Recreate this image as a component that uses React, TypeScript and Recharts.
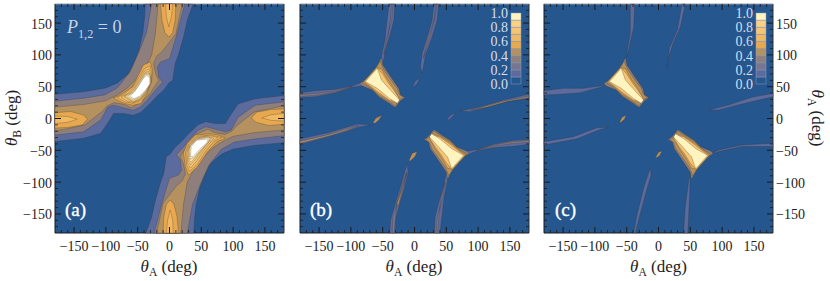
import React from 'react';
import {
  ScatterChart,
  Scatter,
  XAxis,
  YAxis,
  ReferenceArea,
  BarChart,
  Bar,
} from 'recharts';

type Pt = number[];

const majorTicks = [-150, -100, -50, 0, 50, 100, 150];
const allTicks = [-170, -160, -150, -140, -130, -120, -110, -100, -90, -80, -70, -60, -50, -40, -30, -20, -10, 0, 10, 20, 30, 40, 50, 60, 70, 80, 90, 100, 110, 120, 130, 140, 150, 160, 170];
const barLabels = [0, 0.2, 0.4, 0.6, 0.8, 1];
const barSteps = [0.1, 0.1, 0.1, 0.1, 0.1, 0.1, 0.1, 0.1, 0.1, 0.1];
const frameCorners = [{ a: -180, b: -180 }, { a: 180, b: 180 }];

// fill colour for each contour band, low to high
const BANDS = ['#25568e', '#5b6b9e', '#77758f', '#8f7f7c', '#b5915f', '#e8a850', '#f1b862', '#f5c474', '#fad085', '#fee3a4', '#fff3c0', '#ffffff'];

// panel (a), upper-left ridge
const aUp1: Pt[] = [[-180, 38], [-135, 42], [-100, 48], [-82, 56], [-65, 70], [-56, 87], [-48, 108], [-42, 134], [-39, 160], [-38, 180], [37, 180], [28, 155], [22, 128], [14, 100], [9, 87], [5, 60], [-1, 56], [-9, 45], [-20, 35], [-30, 24], [-45, 10], [-57, 5], [-72, 8], [-88, 8], [-97, -7], [-108, -23], [-135, -31], [-180, -36]];
const aUp2: Pt[] = [[-180, 27], [-135, 32], [-102, 37], [-82, 48], [-62, 73], [-50, 100], [-36, 135], [-28, 180], [24, 180], [12, 134], [0, 94], [-14, 89], [-19, 81], [-17, 65], [-11, 57], [-22, 45], [-35, 29], [-46, 18], [-57, 13], [-88, 21], [-97, 18], [-108, -2], [-135, -21], [-180, -26]];
const aUp3: Pt[] = [[-180, 18], [-135, 22], [-100, 28], [-82, 37], [-66, 48], [-48, 66], [-37, 82], [-28, 100], [-22, 135], [-18, 180], [20, 180], [10, 133], [-11, 106], [-20, 98], [-25, 87], [-22, 71], [-17, 60], [-30, 40], [-40, 30], [-60, 17], [-71, 22], [-87, 25], [-98, 20], [-106, 11], [-133, -10], [-180, -20]];
const aLeft1: Pt[] = [[-180, 9], [-156, 11], [-135, 5.5], [-129, -1], [-137, -10], [-160, -14], [-180, -15]];
const aLeft2: Pt[] = [[-180, 4], [-160, 3], [-145, -1], [-160, -6], [-180, -8]];
const aTop1: Pt[] = [[-14, 180], [-12, 155], [-7, 135], [-1, 128], [5, 135], [9, 155], [10, 180]];
const aTop2: Pt[] = [[-6, 180], [-5, 160], [-1, 144], [3, 160], [5, 180]];
const aBlob1: Pt[] = [[-88, 32], [-77, 37], [-58, 50], [-49, 68], [-41, 84], [-30, 89], [-27, 76], [-28, 60], [-35, 40], [-45, 24], [-57, 21], [-72, 24]];
const aBlob2: Pt[] = [[-82, 33], [-72, 38], [-57, 50], [-48, 65], [-40, 78], [-31, 83], [-28, 72], [-28.5, 58], [-35, 42], [-46, 28], [-57, 24], [-70, 26]];
const aBlob3: Pt[] = [[-76, 34], [-66, 39], [-56, 48], [-47, 62], [-40, 74], [-32, 78], [-29, 68], [-29, 57], [-35.5, 43], [-46, 30], [-57, 25], [-68, 28]];
const aBlob4: Pt[] = [[-72, 35], [-62, 40], [-55, 47], [-46, 60], [-39, 72], [-33, 74], [-29.5, 65], [-29.5, 58], [-36, 43], [-46, 31], [-57, 26], [-65, 30]];
const aBlob5: Pt[] = [[-70, 35], [-60, 40], [-54, 46], [-47, 58], [-38, 71], [-32, 71], [-29.5, 60], [-36, 44], [-46, 32], [-57, 27]];
const aBlob6: Pt[] = [[-66, 35], [-57, 41], [-50, 49], [-44, 60], [-37, 70], [-31, 68], [-30, 56], [-37, 44], [-46, 34], [-57, 29]];
const aBlob7: Pt[] = [[-62, 35], [-55, 42], [-48, 52], [-42, 62], [-36, 68], [-31, 64], [-31, 54], [-38, 44], [-47, 35], [-56, 31]];

// panel (a), lower-right ridge
const aDn1: Pt[] = [[180, -38], [135, -42], [100, -48], [82, -56], [65, -70], [56, -87], [48, -108], [42, -134], [39, -160], [38, -180], [-37, -180], [-28, -155], [-22, -128], [-14, -100], [-9, -87], [-5, -60], [1, -56], [9, -45], [20, -35], [30, -24], [45, -10], [57, -5], [72, -8], [88, -8], [97, 7], [108, 23], [135, 31], [180, 36]];
const aDn2: Pt[] = [[180, -27], [135, -32], [102, -37], [82, -48], [62, -73], [50, -100], [36, -135], [28, -180], [-24, -180], [-12, -134], [0, -94], [14, -89], [19, -81], [17, -65], [11, -57], [22, -45], [35, -29], [46, -18], [57, -13], [88, -21], [97, -18], [108, 2], [135, 21], [180, 26]];
const aDn3: Pt[] = [[180, -18], [135, -22], [100, -28], [82, -37], [66, -48], [48, -66], [37, -82], [28, -100], [22, -135], [18, -180], [-20, -180], [-10, -133], [11, -106], [20, -98], [25, -87], [22, -71], [17, -60], [30, -40], [40, -26], [60, -17], [71, -22], [87, -25], [98, -20], [106, -11], [133, 10], [180, 20]];
const aRight1: Pt[] = [[180, -9], [156, -11], [135, -5.5], [129, 1], [137, 10], [160, 14], [180, 15]];
const aRight2: Pt[] = [[180, -4], [160, -3], [145, 1], [160, 6], [180, 8]];
const aBottom1: Pt[] = [[14, -180], [12, -155], [7, -135], [1, -128], [-5, -135], [-9, -155], [-10, -180]];
const aBottom2: Pt[] = [[6, -180], [5, -160], [1, -144], [-3, -160], [-5, -180]];
const aLow1: Pt[] = [[88, -31], [75, -36], [60, -52], [44, -76], [30, -89], [25, -76], [22, -54], [28, -39], [41, -26], [64, -24], [76, -26]];
const aLow2: Pt[] = [[82, -30], [70, -36], [58, -50], [44, -72], [32, -83], [27, -74], [25, -54], [30, -40], [43, -28], [64, -26]];
const aLow3: Pt[] = [[76, -30], [66, -36], [54, -50], [42, -68], [33, -78], [28, -70], [27, -54], [31, -41], [43, -30], [62, -27]];
const aLow4: Pt[] = [[70, -31], [62, -37], [51, -50], [41, -64], [33, -73], [29, -66], [29, -52], [32, -42], [43, -31], [60, -28]];
const aLow5: Pt[] = [[66, -31], [60, -38], [49, -51], [40, -62], [33, -69], [30, -62], [31, -50], [33, -43], [43, -32], [60, -29]];
const aLow6: Pt[] = [[64, -31], [60, -38], [47, -52], [38, -62], [32, -64], [31, -50], [33, -43], [43, -33], [60, -30]];
const aLow7: Pt[] = [[33, -60], [34, -44], [43, -34], [61, -32], [59, -38], [46, -50], [37, -60]];

// the two stars, same in (b) and (c)
const starUp1: Pt[] = [[-86, 55], [-70, 66], [-58, 84], [-52, 96], [-49.7, 84], [-37.7, 66], [-24.6, 47], [-22, 37], [-15, 33], [-22, 28], [-30, 17.6], [-34, 19.7], [-40, 24], [-56, 34], [-66.5, 44.8], [-82, 51]];
const starUp2: Pt[] = [[-82, 56], [-60, 80], [-54, 90], [-49, 78], [-38, 62], [-27, 47], [-24, 38], [-18, 33], [-24, 29], [-30, 20], [-40, 26], [-56, 36], [-68, 47]];
const starUp3: Pt[] = [[-80, 57], [-60, 80], [-52, 78], [-43, 62], [-33, 48], [-27, 37], [-23, 32], [-29, 24], [-40, 28], [-57, 39], [-70, 50]];
const starUp4: Pt[] = [[-79, 58], [-59, 80], [-50, 70], [-41, 56], [-32, 44], [-25, 33], [-28, 26], [-40, 29], [-58, 42], [-72, 53]];
const starUp5: Pt[] = [[-77, 58], [-58.6, 79], [-52, 60.5], [-38, 44.8], [-23.5, 29], [-27, 24], [-40, 32], [-58.6, 47.4], [-72, 55]];
const starDn1: Pt[] = [[86, -55], [70, -66], [58, -84], [52, -96], [49.7, -84], [37.7, -66], [24.6, -47], [22, -37], [15, -33], [22, -28], [30, -17.6], [34, -19.7], [40, -24], [56, -34], [66.5, -44.8], [82, -51]];
const starDn2: Pt[] = [[82, -56], [60, -80], [54, -90], [49, -78], [38, -62], [27, -47], [24, -38], [18, -33], [24, -29], [30, -20], [40, -26], [56, -36], [68, -47]];
const starDn3: Pt[] = [[80, -57], [60, -80], [52, -78], [43, -62], [33, -48], [27, -37], [23, -32], [29, -24], [40, -28], [57, -39], [70, -50]];
const starDn4: Pt[] = [[79, -58], [59, -80], [50, -70], [41, -56], [32, -44], [25, -33], [28, -26], [40, -29], [58, -42], [72, -53]];
const starDn5: Pt[] = [[77, -58], [58.6, -79], [52, -60.5], [38, -44.8], [23.5, -29], [27, -24], [40, -32], [58.6, -47.4], [72, -55]];

// panel (b) arms
const bLeftUp: Pt[] = [[-180, 40.6], [-155.6, 43.8], [-124, 46], [-98, 51], [-80, 58], [-80, 52], [-98, 49], [-124, 40.6], [-155.6, 34.3], [-180, 33]];
const bLeftUpIn: Pt[] = [[-180, 37.5], [-155, 39], [-124, 43.5], [-98, 50], [-124, 42], [-155, 36.5], [-180, 35]];
const bTopLeft: Pt[] = [[-40, 180], [-43, 155], [-46.6, 123.4], [-52, 97], [-50, 84], [-45.5, 108], [-37.7, 134], [-32.4, 155], [-31, 180]];
const bTopLeftIn: Pt[] = [[-36, 180], [-38, 155], [-42, 125], [-48, 100], [-44, 125], [-36, 155], [-34, 180]];
const bTopRight: Pt[] = [[30.4, 180], [38, 180], [35.6, 155], [27.8, 128.7], [17.3, 99.8], [12, 71], [9.4, 81], [12, 102.5], [20, 128.7], [27.8, 155]];
const bTopRightIn: Pt[] = [[34, 180], [31, 155], [24, 128], [14, 95], [22, 128], [31, 155], [35, 180]];
const bRightUp: Pt[] = [[179.7, 38.5], [140.4, 29], [103.7, 18.6], [72.3, 12.3], [88, 10.8], [114, 17.6], [145.7, 26.5], [179.7, 31.7]];
const bRightUpIn: Pt[] = [[179.7, 35], [140, 27], [104, 17], [88, 13], [114, 18], [146, 27], [179.7, 33]];
const bLeftLow: Pt[] = [[-180, -32], [-134.6, -22], [-108, -14], [-90, -8.6], [-69, -10], [-90, -14], [-108, -20.7], [-134.6, -28.5], [-180, -41]];
const bLeftLowIn: Pt[] = [[-180, -36], [-134, -25], [-108, -17], [-88, -11], [-108, -19], [-134, -27], [-180, -39]];
const bBottomLeft: Pt[] = [[-38.7, -180], [-37.7, -159.5], [-30, -133.4], [-19, -96.7], [-11.5, -70.5], [-10, -86], [-16.7, -112], [-24.6, -138.6], [-30, -159.5], [-30, -180]];
const bBottomLeftIn: Pt[] = [[-35, -180], [-34, -155], [-26, -130], [-16, -100], [-12, -85], [-18, -100], [-28, -135], [-32, -180]];
const bBottomLeftCore: Pt[] = [[-28, -135], [-22, -118], [-14, -92], [-12, -85], [-18, -108], [-25, -135]];
const bRightLow: Pt[] = [[180, -40.6], [155.6, -43.8], [124, -46], [98, -51], [80, -58], [80, -52], [98, -49], [124, -40.6], [155.6, -34.3], [180, -33]];
const bRightLowIn: Pt[] = [[180, -37.5], [155, -39], [124, -43.5], [98, -50], [124, -42], [155, -36.5], [180, -35]];
const bBottomRight: Pt[] = [[40, -180], [43, -155], [46.6, -123.4], [52, -97], [50, -84], [45.5, -108], [37.7, -134], [32.4, -155], [31, -180]];
const bBottomRightIn: Pt[] = [[36, -180], [38, -155], [42, -125], [48, -100], [44, -125], [36, -155], [34, -180]];
const bDotA: Pt[] = [[-65.4, -6.5], [-61, 0.3], [-51, 5.5], [-56, -2.3], [-62, -7.6]];
const bDotB: Pt[] = [[-9, -66.3], [-3.6, -54.7], [4.3, -52], [0.6, -60], [-6.2, -66.3]];
const bDotC: Pt[] = [[-2.6, 51], [1.6, 59.5], [8.5, 63], [4, 55], [-1, 50]];
const bDotD: Pt[] = [[51.3, -1.3], [56.6, 5.5], [64.5, 9], [59.2, 2.9], [54, -2.3]];

// panel (c) arms
const cLeftUp: Pt[] = [[-180, 43.8], [-149, 47.4], [-117.7, 47.4], [-91.5, 51], [-78, 58], [-91.5, 49], [-123, 40.6], [-154.4, 38], [-180, 37]];
const cTopLeft: Pt[] = [[-44.3, 180], [-44.3, 134], [-50.6, 97], [-47, 107.7], [-39, 144], [-37.5, 180]];
const cTopRight: Pt[] = [[36.9, 180], [30, 140], [17, 110], [13.3, 79], [16, 97], [22.8, 118], [34.3, 144], [42.1, 180]];
const cRightUp: Pt[] = [[180, 39.6], [146.9, 33.3], [110, 21.2], [78.8, 13.4], [94.5, 13.4], [131, 22.8], [180, 34.3]];
const cLeftLow: Pt[] = [[-180, -36.4], [-133.4, -28.5], [-96.7, -14.4], [-78.4, -13.9], [-94, -18], [-128, -32], [-180, -41.6]];
const cBottomLeft: Pt[] = [[-39, -180], [-33.8, -151.7], [-23.4, -109.8], [-12.9, -77.3], [-11.8, -88.8], [-18, -110], [-28.6, -149], [-36.5, -180]];
const cRightLow: Pt[] = [[180, -39], [131, -41.6], [94.5, -49.5], [78, -58], [94.5, -52], [131, -44], [180, -44]];
const cBottomRight: Pt[] = [[39.5, -180], [42, -140], [47.3, -99], [50, -84], [49, -120], [46, -180]];
const cDotA: Pt[] = [[-61, -5], [-57.4, 1.9], [-50.6, 5.5], [-53.7, -1.3], [-60, -6.5]];
const cDotB: Pt[] = [[-5, -61.6], [0, -53.2], [5.5, -51], [1.8, -58.4], [-5, -62.6]];

const starLayers: [Pt[], number][] = [
  [starUp1, 3], [starUp2, 4], [starUp3, 5], [starUp4, 7], [starUp5, 10],
  [starDn1, 3], [starDn2, 4], [starDn3, 5], [starDn4, 7], [starDn5, 10],
];

const panelA: [Pt[], number][] = [
  [aUp1, 1], [aUp2, 3], [aUp3, 4], [aLeft1, 5], [aLeft2, 6], [aTop1, 5], [aTop2, 6],
  [aBlob1, 5], [aBlob2, 6], [aBlob3, 7], [aBlob4, 8], [aBlob5, 9], [aBlob6, 10], [aBlob7, 11],
  [aDn1, 1], [aDn2, 3], [aDn3, 4], [aRight1, 5], [aRight2, 6], [aBottom1, 5], [aBottom2, 6],
  [aLow1, 5], [aLow2, 6], [aLow3, 7], [aLow4, 8], [aLow5, 9], [aLow6, 10], [aLow7, 11],
];

const panelB: [Pt[], number][] = [
  [bLeftUp, 1], [bLeftUpIn, 3], [bTopLeft, 1], [bTopLeftIn, 2], [bTopRight, 1], [bTopRightIn, 3],
  [bRightUp, 1], [bRightUpIn, 4], [bLeftLow, 1], [bLeftLowIn, 4], [bBottomLeft, 1], [bBottomLeftIn, 2], [bBottomLeftCore, 4],
  [bRightLow, 1], [bRightLowIn, 3], [bBottomRight, 1], [bBottomRightIn, 3],
  [bDotA, 4], [bDotB, 4], [bDotC, 1], [bDotD, 1],
  ...starLayers,
];

const panelC: [Pt[], number][] = [
  [cLeftUp, 1], [cTopLeft, 1], [cTopRight, 1], [cRightUp, 1], [cLeftLow, 1], [cBottomLeft, 1],
  [cRightLow, 1], [cBottomRight, 1], [cDotA, 4], [cDotB, 4],
  ...starLayers,
];

const FONT = '"Liberation Serif", serif';
const PLOT_W = 229;
const PLOT_H = 229;
const PLOT_TOP = 4;
const fmt = (v: number) => (v < 0 ? `\u2212${-v}` : `${v}`);

const makeTick = (side: 'bottom' | 'top' | 'left' | 'right', showText: boolean) => (props: any) => {
  const { x, y, payload } = props;
  const v = payload.value;
  const major = majorTicks.includes(v);
  const len = major ? 6 : 3;
  const vertical = side === 'bottom' || side === 'top';
  const dir = side === 'bottom' || side === 'right' ? -1 : 1;
  return (
    <g>
      <line
        x1={x}
        y1={y}
        x2={vertical ? x : x + dir * len}
        y2={vertical ? y + dir * len : y}
        stroke="#1a1a1a"
        strokeWidth={major ? 1 : 0.8}
      />
      {showText && major && (
        <text
          x={side === 'bottom' ? x : side === 'left' ? x - 3 : x + 3}
          y={side === 'bottom' ? y + 18 : y + 5.5}
          textAnchor={side === 'bottom' ? 'middle' : side === 'left' ? 'end' : 'start'}
          fontFamily={FONT}
          fontSize={14}
          fill="#222"
        >
          {fmt(v)}
        </text>
      )}
    </g>
  );
};

const Panel = ({ layers, left, yText, rightText }: { layers: [Pt[], number][]; left: number; yText?: boolean; rightText?: boolean }) => (
  <div style={{ position: 'absolute', left: left - 50, top: 0 }}>
    <ScatterChart width={PLOT_W + 100} height={281} margin={{ left: 49, right: 49, top: PLOT_TOP - 1, bottom: 281 - PLOT_TOP - PLOT_H - 1 }}>
      <ReferenceArea xAxisId="b" yAxisId="l" x1={-180} x2={180} y1={-180} y2={180} fill={BANDS[0]} fillOpacity={1} stroke="none" />
      {layers.map(([pts, band], i) => (
        <Scatter
          key={i}
          xAxisId="b"
          yAxisId="l"
          data={[...pts, pts[0]].map(([a, b]) => ({ a, b }))}
          fill={BANDS[band]}
          line={{ fill: BANDS[band], stroke: '#3a3228', strokeOpacity: 0.55, strokeWidth: 0.5 }}
          lineType="joint"
          shape={() => <g />}
          isAnimationActive={false}
        />
      ))}
      <Scatter xAxisId="t" yAxisId="r" data={frameCorners} shape={() => <g />} isAnimationActive={false} />
      <XAxis xAxisId="b" dataKey="a" type="number" domain={[-180, 180]} ticks={allTicks} interval={0} height={1} tickSize={0} tickMargin={0} tickLine={false} stroke="#1a1a1a" tick={makeTick('bottom', true)} />
      <XAxis xAxisId="t" orientation="top" dataKey="a" type="number" domain={[-180, 180]} ticks={allTicks} interval={0} height={1} tickSize={0} tickMargin={0} tickLine={false} stroke="#999" tick={makeTick('top', false)} />
      <YAxis yAxisId="l" dataKey="b" type="number" domain={[-180, 180]} ticks={allTicks} interval={0} width={1} tickSize={0} tickMargin={0} tickLine={false} stroke="#1a1a1a" tick={makeTick('left', !!yText)} />
      <YAxis yAxisId="r" orientation="right" dataKey="b" type="number" domain={[-180, 180]} ticks={allTicks} interval={0} width={1} tickSize={0} tickMargin={0} tickLine={false} stroke="#333" tick={makeTick('right', !!rightText)} />
    </ScatterChart>
  </div>
);

const barRow = [barSteps.reduce((row: any, v, i) => ({ ...row, [`s${i}`]: v }), { name: 'z' })];

const ColorBar = ({ left }: { left: number }) => (
  <div style={{ position: 'absolute', left: left - 40, top: 0 }}>
    <BarChart width={55} height={95} data={barRow} barCategoryGap={0} margin={{ left: 39, right: 5, top: 13, bottom: 11 }}>
      <XAxis dataKey="name" hide />
      <YAxis
        type="number"
        domain={[0, 1]}
        ticks={barLabels}
        interval={0}
        width={1}
        axisLine={false}
        tickLine={false}
        tickSize={0}
        tickMargin={0}
        tick={(p: any) => (
          <text x={p.x - 3} y={p.y + 5} textAnchor="end" fontFamily={FONT} fontSize={14} fill="#d8dfec">
            {p.payload.value.toFixed(1)}
          </text>
        )}
      />
      {barSteps.map((_, i) => (
        <Bar key={i} dataKey={`s${i}`} stackId="bar" fill={BANDS[i === 9 ? 10 : i]} stroke="#8fa0bb" strokeWidth={0.5} isAnimationActive={false} />
      ))}
    </BarChart>
  </div>
);

const Theta = ({ sub }: { sub: string }) => (
  <>
    <i>θ</i>
    <sub style={{ fontSize: '0.68em', lineHeight: 0 }}>{sub}</sub> (deg)
  </>
);

const axisLabel: React.CSSProperties = { position: 'absolute', fontFamily: FONT, fontSize: 17, color: '#222', whiteSpace: 'nowrap', lineHeight: '18px' };
const panelTag: React.CSSProperties = { ...axisLabel, top: 201, color: '#fff', fontSize: 19, WebkitTextStroke: '0.35px #fff' };

const App = () => (
  <div style={{ position: 'absolute', left: 0, top: 0, width: 830, height: 281, background: '#fff', overflow: 'hidden' }}>
    <Panel layers={panelA} left={54.5} yText />
    <Panel layers={panelB} left={299.5} />
    <Panel layers={panelC} left={544} rightText />
    <ColorBar left={511} />
    <ColorBar left={755.5} />
    <div style={{ ...axisLabel, left: 169, top: 258, transform: 'translateX(-50%)' }}><Theta sub="A" /></div>
    <div style={{ ...axisLabel, left: 414, top: 258, transform: 'translateX(-50%)' }}><Theta sub="A" /></div>
    <div style={{ ...axisLabel, left: 658.5, top: 258, transform: 'translateX(-50%)' }}><Theta sub="A" /></div>
    <div style={{ ...axisLabel, left: 12, top: 118, transform: 'translate(-50%,-50%) rotate(-90deg)' }}><Theta sub="B" /></div>
    <div style={{ ...axisLabel, left: 817, top: 118, transform: 'translate(-50%,-50%) rotate(90deg)' }}><Theta sub="A" /></div>
    <div style={{ ...axisLabel, left: 67, top: 18, color: '#c9d3e2', fontSize: 18 }}><i>P</i><sub style={{ fontSize: '0.68em', lineHeight: 0 }}>1,2</sub> = 0</div>
    <div style={{ ...panelTag, left: 65 }}>(a)</div>
    <div style={{ ...panelTag, left: 310 }}>(b)</div>
    <div style={{ ...panelTag, left: 555 }}>(c)</div>
  </div>
);

export default App;
